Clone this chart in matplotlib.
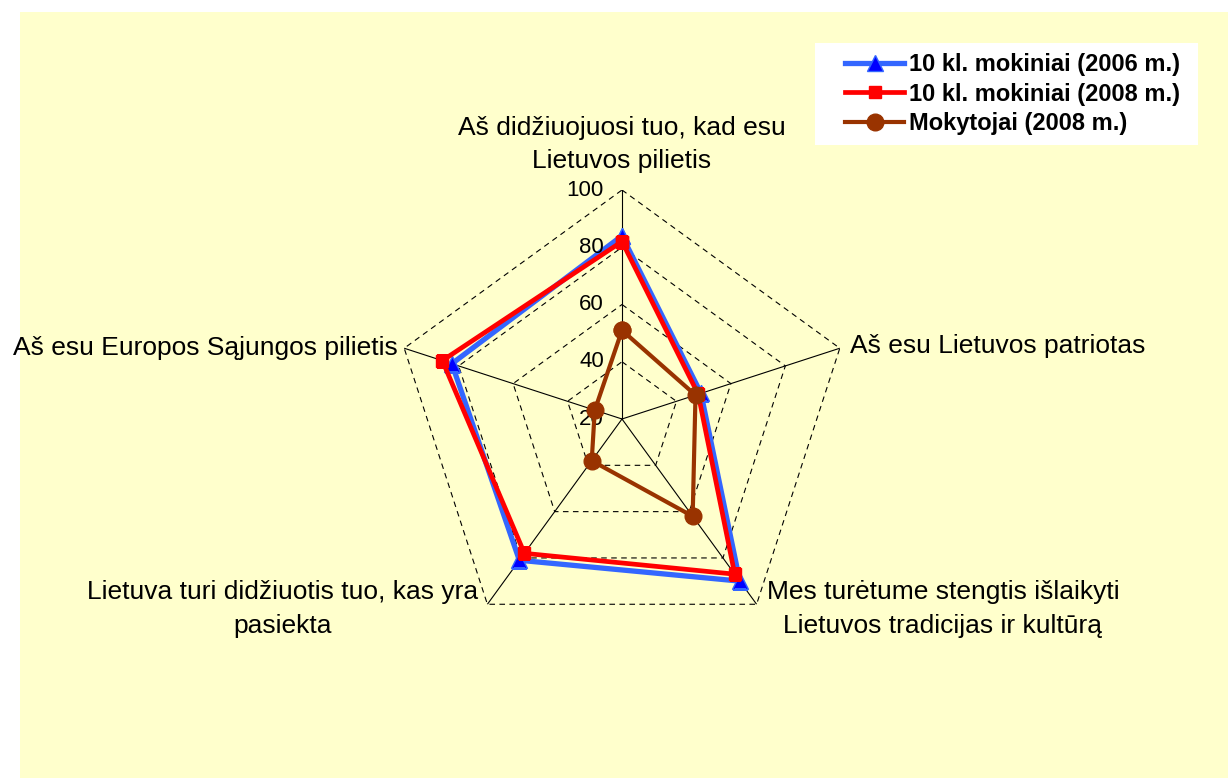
import numpy as np
import matplotlib
matplotlib.use("Agg")
import matplotlib.pyplot as plt
from matplotlib.patches import Rectangle

plt.rcParams['font.family'] = ['Liberation Sans', 'DejaVu Sans']

# data
categories = ["Aš didžiuojuosi tuo, kad esu\nLietuvos pilietis",
              "Aš esu Lietuvos patriotas",
              "Mes turėtume stengtis išlaikyti\nLietuvos tradicijas ir kultūrą",
              "Lietuva turi didžiuotis tuo, kas yra\npasiekta",
              "Aš esu Europos Sąjungos pilietis"]
mokiniai_2006 = [84, 49, 90, 81, 82.5]
mokiniai_2008 = [82, 48, 87, 78, 86]
mokytojai_2008 = [51, 47, 62, 38, 30]
series_names = ["10 kl. mokiniai (2006 m.)", "10 kl. mokiniai (2008 m.)", "Mokytojai (2008 m.)"]
rings = [40, 60, 80, 100]
tick_labels = [20, 40, 60, 80, 100]
r_min, r_max = 20, 100

W, H = 1228, 782
fig = plt.figure(figsize=(W / 100, H / 100), dpi=100)
fig.patch.set_facecolor('white')
# yellow chart area and white legend box
fig.patches.append(Rectangle((20 / W, 4 / H), 1 - 20 / W, 766 / H, transform=fig.transFigure,
                             facecolor='#FFFFCC', edgecolor='none', zorder=-5))
fig.patches.append(Rectangle((815 / W, (H - 145) / H), 383 / W, 102 / H, transform=fig.transFigure,
                             facecolor='white', edgecolor='none', zorder=-4))

cx, cy, rad = 622, 419, 229
ax = fig.add_axes([(cx - rad) / W, (H - cy - rad) / H, 2 * rad / W, 2 * rad / H], projection='polar')
ax.set_zorder(2)
ax.set_theta_offset(np.pi / 2)
ax.set_theta_direction(-1)
ax.set_ylim(r_min, r_max)
ax.grid(False)
ax.set_xticks([])
ax.set_yticks([])
ax.spines['polar'].set_visible(False)
ax.patch.set_alpha(0)

n = len(categories)
theta = np.arange(n) * 2 * np.pi / n
theta_c = np.append(theta, theta[0])

# pentagon grid
for lev in rings:
    ax.plot(theta_c, [lev] * (n + 1), color='black', lw=0.8, ls=(0, (5, 4)), zorder=1)
for t in theta:
    ax.plot([t, t], [r_min, r_max], color='black', lw=0.8, zorder=1)

def closed(v):
    return np.append(v, v[0])

ax.plot(theta_c, closed(mokiniai_2006), color='#3366FF', lw=3.8, marker='^', ms=12,
        mfc='#0000FF', mec='#3366FF', label=series_names[0], zorder=3)
ax.plot(theta_c, closed(mokiniai_2008), color='#FF0000', lw=3.4, marker='s', ms=9,
        mfc='#FF0000', mec='#FF0000', label=series_names[1], zorder=4)
ax.plot(theta_c, closed(mokytojai_2008), color='#993300', lw=3, marker='o', ms=12,
        mfc='#993300', mec='#993300', label=series_names[2], zorder=5)

# value labels on the vertical axis
for v in tick_labels:
    ax.annotate(str(v), xy=(0, v), xytext=(-18, 0), textcoords='offset pixels',
                ha='right', va='center', fontsize=16)

# category labels
lab_fs = 19
ls = 1.5
ax.annotate(categories[0], xy=(theta[0], r_max), xytext=(0, 17), textcoords='offset pixels',
            ha='center', va='bottom', multialignment='center', fontsize=lab_fs, linespacing=ls)
ax.annotate(categories[1], xy=(theta[1], r_max), xytext=(10, 2), textcoords='offset pixels',
            ha='left', va='center', fontsize=lab_fs)
ax.annotate(categories[2], xy=(theta[2], r_max), xytext=(10, 24), textcoords='offset pixels',
            ha='left', va='top', multialignment='center', fontsize=lab_fs, linespacing=ls)
ax.annotate(categories[3], xy=(theta[3], r_max), xytext=(-9, 24), textcoords='offset pixels',
            ha='right', va='top', multialignment='center', fontsize=lab_fs, linespacing=ls)
ax.annotate(categories[4], xy=(theta[4], r_max), xytext=(-6, 0), textcoords='offset pixels',
            ha='right', va='center', fontsize=lab_fs)

leg = ax.legend(loc='center left', bbox_to_anchor=(845 / W, (H - 94) / H),
                bbox_transform=fig.transFigure, prop={'weight': 'bold', 'size': 17},
                frameon=False, handlelength=2.5, handletextpad=0.2, labelspacing=0.28,
                borderaxespad=0, borderpad=0)

fig.savefig('out.png', dpi=100)
